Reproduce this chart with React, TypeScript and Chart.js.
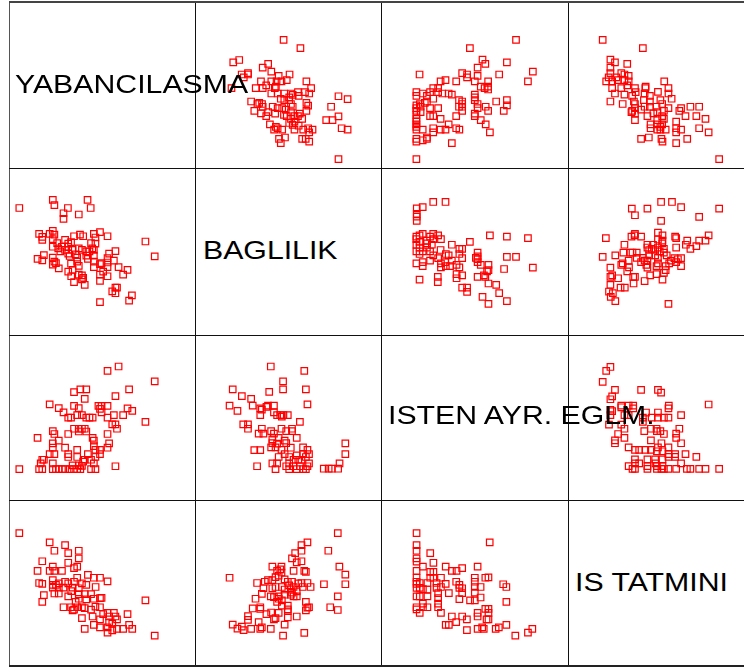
import React, { useEffect, useRef } from "react";
import { Chart, registerables } from "chart.js";

Chart.register(...registerables);

// Variables of the scatterplot matrix (diagonal labels)
const VARIABLE_NAMES = ["YABANCILASMA", "BAGLILIK", "ISTEN AYR. EGLM.", "IS TATMINI"];

// Common score scale for every variable (0-100)
const AXIS_MIN = 0;
const AXIS_MAX = 100;

// [YABANCILASMA, BAGLILIK]
const yabancilasmaBaglilik: [number, number][] = [
  [2, 78.5], [21.1, 83.7], [22, 80.3], [40.9, 83.7], [42.7, 78.5], [29.7, 78.5], [27.2, 75.1], [27.2, 71.5], [35.9, 74.3],
  [13.3, 61.8], [21.1, 63.7], [15.1, 59.8], [15.1, 57.8], [19.3, 61.8], [22, 61.2], [21.1, 58.4], [28.1, 57.8], [23.6, 55.8], [33.2, 60.2], [36.6, 61.2], [38.4, 60.2], [44.5, 61.8], [48, 62.9], [45.4, 59.4], [52.3, 60.2], [73.9, 56.8],
  [21.1, 53.4], [24.2, 52.4], [26.3, 53.4], [29.9, 55.4], [31.5, 56.4], [29.9, 53.4], [28.1, 51.4], [25.4, 50.4], [32.4, 51.4], [35.9, 52.4], [37.7, 51.4], [40.2, 50.4], [42, 50.4], [42.9, 55.8], [43.6, 52.4], [44.5, 51.4], [45.4, 55.4],
  [12.4, 45.6], [16, 48], [15.1, 44.6], [21.1, 46.4], [22, 43.8], [21.1, 41.8], [22.9, 42.8], [24.5, 39.4], [29.9, 49], [30.7, 47.4], [34.1, 48.4], [35, 46.4], [35, 43.8], [35.9, 41], [40.2, 47.6], [41.1, 45.6], [44.5, 47.6], [56.8, 50.6], [53.2, 49], [52.3, 46], [55.9, 44.4], [79.2, 47.2],
  [31.5, 42.4], [32.4, 38.4], [29.9, 37.3], [31.6, 34.3], [33.2, 30.5], [35.9, 35.3], [37.7, 34.9], [38.4, 33.3], [39.3, 28.7], [37.7, 32.3], [44.5, 43.8], [44.5, 40.2], [48, 42.2], [48.9, 42.8], [52.3, 43.2], [52.3, 40.2], [58.6, 40.2], [63.7, 38.4], [61.2, 35.3], [48, 35.3], [48, 31.3], [52.3, 34.3], [49.8, 37.3],
  [56.8, 26.9], [57.7, 26.9], [55, 24.5], [56.8, 23.3], [66.2, 21.9], [64.6, 18.5], [48, 17.5],
];

// [YABANCILASMA, ISTEN AYR. EGLM.]
const yabancilasmaIsten: [number, number][] = [
  [52.3, 79.9], [58.6, 82.7], [79.2, 73.1], [33.2, 66.1], [36.8, 67.9], [40.2, 67.9], [64.6, 67.9], [39.3, 61.8], [56.8, 63.5], [19.3, 58.2],
  [24.5, 55.8], [27.2, 53], [33.2, 57.2], [35.9, 55.8], [29.9, 49.6], [31.5, 49.6], [35, 51.2], [37.7, 51.2], [40.2, 49.6], [42, 49.6], [43.8, 49.6], [47.1, 57.2], [48.9, 57.2], [52.3, 57.2], [48, 55.2], [48.9, 53], [52.3, 49.6], [55.9, 51.2], [61.2, 51.2], [63.7, 55.6], [66.4, 54], [73.9, 46.8], [55, 45.2], [56.8, 45.2], [57.7, 42.4],
  [12.4, 36.5], [21.1, 40.8], [22, 39], [29.9, 39], [33.2, 42.4], [35.9, 42.4], [37.7, 42.4], [39.3, 42.4], [35.9, 40.6], [40.2, 40.6], [52.3, 39], [43.8, 36.5], [44.5, 34.7], [53.2, 32.9], [52.3, 30.1], [48, 28.7],
  [21.1, 32.9], [24.5, 34.7], [21.1, 30.1], [28.1, 30.1], [19.3, 25.9], [22, 25.9], [29.9, 25.9], [29.9, 24.1], [35, 28.7], [35, 24.1], [41.1, 25.9], [44.5, 31.1], [45.4, 28.7], [48, 25.9], [39.3, 22.3], [42.9, 22.3], [45.4, 24.1],
  [15.1, 22.3], [14.2, 19.9], [21.1, 19.9], [16, 22.3], [38.4, 21.1], [32.4, 18.7], [35.9, 18.7], [44.5, 19.9],
  [2, 16.3], [13.3, 16.3], [15.1, 16.3], [21.1, 16.3], [22.9, 16.3], [24.5, 16.3], [26.3, 16.3], [28.1, 16.3], [30.7, 16.3], [33.2, 16.3], [35, 16.3], [36.8, 16.3], [37.7, 18.3], [42.9, 16.3], [45.4, 16.3], [56.8, 18.1],
];

// [YABANCILASMA, IS TATMINI]
const yabancilasmaTatmin: [number, number][] = [
  [2, 82.3], [19.3, 76.3], [28.1, 74.5], [22, 70.9], [29.9, 69.3], [35.9, 70.9], [35.9, 65.9], [15.1, 64.1], [29.9, 63.1], [21.1, 60.6], [35, 60.6], [33.2, 59.6], [12.4, 57.8], [19.3, 57.8], [22, 57.8], [26.3, 57.8],
  [41.1, 55.2], [44.5, 53.4], [48, 53.4], [52.3, 51], [35, 53.4], [21.1, 51.8], [13.3, 50], [15.1, 49.4], [21.1, 48.8], [22.9, 48.8], [24.5, 49.8], [28.1, 50.8], [29.9, 49.8], [33.2, 50.8], [37.7, 49.8], [40.2, 48.8], [21.1, 47], [24.5, 47], [27.2, 47], [32.4, 47], [35.9, 46.6], [45.5, 47.4], [22, 43.2], [24.5, 43.2], [16, 42.2], [15.1, 37.8], [29.9, 41.4], [31.6, 44.8], [35.9, 42.8], [39.3, 42.8], [42.9, 42.8], [35.9, 39.8], [40.2, 39.4], [44.5, 39.8], [48, 40.2], [48.9, 40.4], [73.9, 38.8],
  [27.2, 34.3], [31.5, 34.3], [32.4, 32.3], [34.1, 37.8], [35, 34.3], [37.7, 34.3], [39.3, 33.7], [42.9, 32.7], [45.4, 34.7], [48, 34.3], [33.2, 32.7],
  [37.7, 27.3], [43.8, 28.3], [48, 26.5], [49.8, 29.9], [52.3, 30.7], [55.9, 30.7], [53.2, 28.3], [56.8, 28.3], [57.7, 26.5], [63.7, 29.9], [53.2, 24.5], [55, 23.7], [44.5, 22.9], [48, 21.3], [39.3, 20.3], [52.3, 17.9], [55, 19.3], [57.7, 20.3], [61.2, 20.3], [64.6, 22.9], [66.4, 20.3], [79.2, 15.9], [52.3, 21.3],
];

// [BAGLILIK, ISTEN AYR. EGLM.]
const baglilikIsten: [number, number][] = [
  [39.9, 82.7], [59, 79.9], [46.9, 73.1], [46.9, 67.9], [59.9, 67.9], [39, 66.3], [18.2, 67.9], [23.4, 63.5], [28.7, 61.8], [60.8, 58.2], [16.4, 57.4], [20.9, 54], [29.6, 57.4], [33.9, 55.6], [34.8, 54.8], [37.4, 56.6], [38.3, 57.4], [41.7, 57.4], [33.9, 51.2], [41.7, 53], [43.5, 51.2], [45.3, 51.2], [47.1, 51.2], [49.6, 51.2], [46.2, 50.2], [56.5, 46.8],
  [24.2, 45.2], [26.9, 45.2], [26.9, 42.4], [33, 39.2], [34.8, 42.4], [35.7, 39.2], [40.1, 40.8], [41.7, 39.2], [46, 42.4], [48.7, 40.8], [52, 42.4], [52, 40.8], [54.7, 36.5], [44.4, 36.5], [47.8, 34.7], [48.7, 33.1], [40.8, 33.1], [40.1, 30.3], [42.6, 30.3], [46, 28.7], [51.3, 30.1], [30.5, 28.5], [33.9, 28.5], [58.3, 30.3], [60.8, 28.7], [61.7, 25.9], [47.8, 25.9], [50.4, 24.1], [54.7, 25.1], [58.3, 25.9], [59.9, 24.1], [44.4, 24.1], [40.8, 19.9], [43.5, 19.9], [32.1, 18.1], [42.6, 16.3], [48.7, 18.1], [50.4, 16.3], [52.9, 18.1], [54.7, 16.3], [56.5, 18.1], [58.3, 16.3], [60.8, 18.1], [61.7, 19.9], [59.9, 16.3], [52.9, 22.3], [55.6, 22.3], [57.4, 22.3], [50.4, 19.9], [70.1, 16.5], [72.9, 16.5], [74.7, 16.5], [78.3, 16.5], [79.1, 19.9], [82.4, 32.9], [82.4, 25.9], [40.8, 35.5], [43.5, 32.7],
];

// [BAGLILIK, IS TATMINI]
const baglilikTatmin: [number, number][] = [
  [78.1, 82.3], [60.8, 76.3], [57.4, 74.5], [57.4, 70.9], [53.8, 69.3], [72.7, 70.9], [52, 65.9], [54.7, 63.3], [57.4, 64.1], [40.8, 60.6], [46, 60.6], [45.3, 58.8], [43.5, 57.8], [46, 56.8], [52.9, 57.8], [59, 57.8], [59.9, 57.2], [79, 60.6], [82.4, 55.4], [16.4, 53.4],
  [32.1, 50], [36.5, 50.8], [38.3, 51.8], [40.8, 51.8], [42.6, 53.8], [44.4, 54.8], [47.8, 52.4], [49.6, 50.8], [52, 50.8], [55.6, 49.8], [57.4, 50], [60.8, 50], [62.6, 47.4], [70.2, 49.2], [82.4, 49.2], [35.7, 46.6], [40.8, 46.6], [42.6, 47.4], [46.2, 47.4], [47.8, 45.8], [50.4, 48.4], [51.3, 45.8], [52.9, 47.4], [54.7, 44.6], [58.1, 47.4], [34.8, 43], [31.2, 39.8], [39.9, 41.4], [41.7, 40.8], [44.4, 41.4], [47.8, 42.4], [51.3, 42.4], [52, 43.8], [52.9, 41.4], [54.7, 41.4], [46.2, 38.8], [43.5, 37.8], [44.4, 39.8], [46.2, 35.3], [49.6, 35.3], [49.6, 31.7], [49.6, 27.7], [49.6, 32.9], [54.7, 28.3], [59.9, 37.8], [59.9, 32.3], [60.8, 34.1], [61.7, 34.3], [78.1, 41.4], [73.8, 34.3], [78.1, 32.5],
  [29.6, 33.5], [33.9, 34.3], [33.9, 33.3], [37.4, 29.9], [40.1, 30.9], [44.4, 30.7], [41.7, 26.5], [42.6, 27.3], [26.9, 28.5], [26.9, 26.1], [33, 24.7], [18.2, 23.1], [20.9, 20.5], [23.4, 21.7], [24.4, 19.5], [28.7, 20.3], [33.9, 20.3], [34.8, 21.3], [39.9, 20.3], [47.8, 23.1], [46.9, 15.9], [59, 17.7],
];

// [ISTEN AYR. EGLM., IS TATMINI]
const istenTatmin: [number, number][] = [
  [16.4, 82.3], [16.4, 74.5], [16.4, 70.9], [16.4, 65.9], [16.4, 63.9], [16.4, 57.8], [16.4, 53.4], [16.4, 50.8], [16.4, 49.4], [16.4, 46.8], [16.4, 41.4], [16.4, 34.3], [16.4, 32.9],
  [18.2, 50], [18.2, 46.8], [18.2, 41.4], [18.2, 30.7], [20, 60.6], [20, 46], [20, 36.7], [20, 34.3], [22.6, 50], [22.6, 45.8], [22.6, 41.4], [22.6, 34.3], [24.2, 69.3], [26, 63.1], [24.2, 57.2], [26, 57.2], [24.2, 53.4], [26, 53.4], [27.8, 50], [27.8, 46.8], [28.7, 43.4], [28.7, 40.2], [28.7, 36.7], [28.7, 34.3], [30.3, 53.4], [30.3, 30.7], [30.3, 47.4], [33, 60.6], [33, 49.4], [34.8, 43.4], [36.5, 57.8], [39.2, 57.8], [42.4, 59.6], [39, 50.8], [40.8, 48.8], [40.8, 46.8], [42.4, 46.6], [42.4, 43.4], [40.8, 39.6], [33, 22.9], [34.8, 22.9], [36.5, 28.3], [39, 24.7], [42.4, 28.3], [45.1, 26.5], [45.1, 19.5], [46.9, 38.8], [49.6, 38.8], [49.6, 53.4], [49.6, 50.8], [49.6, 47.4], [49.6, 43.8], [51.2, 60.6], [52.9, 47.4], [52.9, 40.6], [51.2, 30.7], [51.2, 28.3], [51.2, 20.3], [54.7, 20.3], [53.8, 21.3], [55.6, 53.4], [57.4, 53.6], [55.6, 33.3], [57.4, 33.3], [57.4, 30.7], [57.4, 26.5], [58.1, 76.3], [61.5, 20.3], [63.3, 21.3], [65.8, 49.2], [67.6, 47.4], [67.6, 37.8], [67.6, 22.9], [72.7, 15.9], [79.9, 17.9], [82.4, 20.3], [56.3, 26.5],
];

const PAIRS: { a: number; b: number; points: [number, number][] }[] = [
  { a: 0, b: 1, points: yabancilasmaBaglilik },
  { a: 0, b: 2, points: yabancilasmaIsten },
  { a: 0, b: 3, points: yabancilasmaTatmin },
  { a: 1, b: 2, points: baglilikIsten },
  { a: 1, b: 3, points: baglilikTatmin },
  { a: 2, b: 3, points: istenTatmin },
];

// Layout
const COL_LEFT = [10, 195, 382, 569];
const ROW_TOP = [2, 169, 334, 500];
const CELL_W = 187;
const CELL_H = 166;
const LABEL_LEFT = [15, 203, 388, 575];
const LABEL_TOP = [72, 238, 403, 570];
const V_LINES = [9, 195, 381, 568];
const H_LINES = [168, 335, 500];

function pointsFor(row: number, col: number): { x: number; y: number }[] {
  const lo = Math.min(row, col);
  const hi = Math.max(row, col);
  const pair = PAIRS.find((p) => p.a === lo && p.b === hi)!;
  return pair.points.map(([u, v]) =>
    pair.a === col ? { x: u, y: v } : { x: v, y: u }
  );
}

function ScatterCell({ row, col }: { row: number; col: number }) {
  const ref = useRef<HTMLCanvasElement>(null);
  useEffect(() => {
    const chart = new Chart(ref.current!, {
      type: "scatter",
      data: {
        datasets: [
          {
            data: pointsFor(row, col),
            pointStyle: "rect",
            pointRadius: 4.6,
            pointBorderWidth: 1.2,
            borderColor: "#ff0000",
            pointBorderColor: "#ff0000",
            backgroundColor: "rgba(0,0,0,0)",
            pointBackgroundColor: "rgba(0,0,0,0)",
            clip: false as any,
          },
        ],
      },
      options: {
        animation: false,
        responsive: false,
        maintainAspectRatio: false,
        events: [],
        layout: { padding: 0 },
        plugins: { legend: { display: false }, tooltip: { enabled: false } },
        scales: {
          x: { type: "linear", display: false, min: AXIS_MIN, max: AXIS_MAX },
          y: { type: "linear", display: false, min: AXIS_MIN, max: AXIS_MAX },
        },
      },
    });
    return () => chart.destroy();
  }, [row, col]);
  return (
    <canvas
      ref={ref}
      width={CELL_W}
      height={CELL_H}
      style={{ position: "absolute", left: COL_LEFT[col], top: ROW_TOP[row], width: CELL_W, height: CELL_H }}
    />
  );
}

export default function App() {
  const cells: React.ReactNode[] = [];
  for (let r = 0; r < 4; r++) {
    for (let c = 0; c < 4; c++) {
      if (r !== c) cells.push(<ScatterCell key={`${r}-${c}`} row={r} col={c} />);
    }
  }
  return (
    <div
      style={{
        position: "fixed",
        left: 0,
        top: 0,
        width: 744,
        height: 667,
        overflow: "hidden",
        background: "#ffffff",
      }}
    >
      {V_LINES.map((x, i) => (
        <div
          key={`v${i}`}
          style={{ position: "absolute", left: x, top: 1, width: 1, height: 666, background: i === 0 ? "#555" : "#111" }}
        />
      ))}
      <div style={{ position: "absolute", left: 9, top: 1, width: 740, height: 2, background: "#444" }} />
      {H_LINES.map((y, i) => (
        <div key={`h${i}`} style={{ position: "absolute", left: 9, top: y, width: 740, height: 1, background: "#111" }} />
      ))}
      <div style={{ position: "absolute", left: 9, top: 665, width: 740, height: 2, background: "#222" }} />
      {cells}
      {VARIABLE_NAMES.map((name, i) => (
        <div
          key={name}
          style={{
            position: "absolute",
            left: LABEL_LEFT[i],
            top: LABEL_TOP[i],
            fontFamily: "'Liberation Sans', Arial, sans-serif",
            fontSize: 25,
            lineHeight: "25px",
            color: "#000",
            whiteSpace: "nowrap",
            transform: "scaleX(1.21)",
            transformOrigin: "left center",
          }}
        >
          {name}
        </div>
      ))}
    </div>
  );
}
